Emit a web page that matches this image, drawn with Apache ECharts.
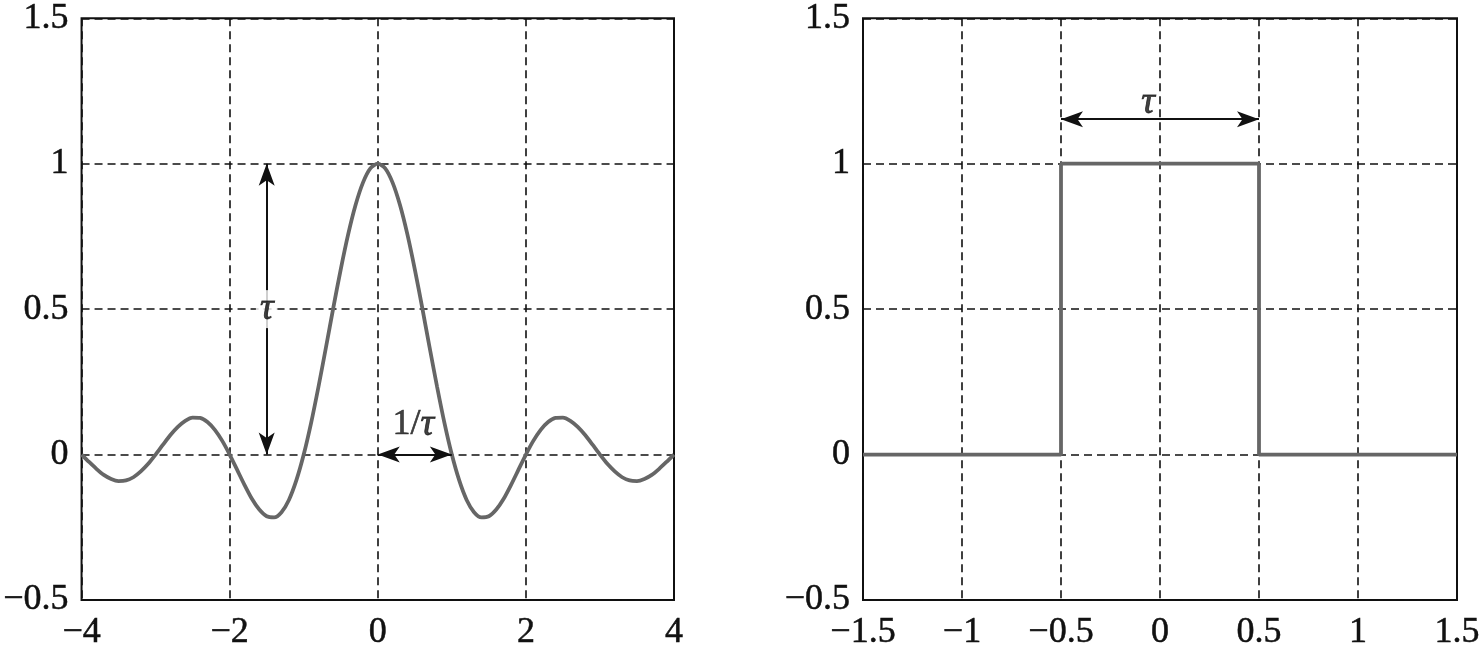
<!DOCTYPE html>
<html>
<head>
<meta charset="utf-8">
<script src="https://cdn.jsdelivr.net/npm/echarts@6/dist/echarts.min.js"></script>
<style>
html,body{margin:0;padding:0;background:#fff;}
#chart{width:1484px;height:653px;}
</style>
</head>
<body>
<div id="chart"></div>
<script>
// ---- data ----
var sincX = [-4,-3.9,-3.8,-3.7,-3.6,-3.5,-3.4,-3.3,-3.2,-3.1,-3,-2.9,-2.8,-2.7,-2.6,-2.5,-2.4,-2.3,-2.2,-2.1,
             -2,-1.9,-1.8,-1.7,-1.6,-1.5,-1.4,-1.3,-1.2,-1.1,-1,-0.9,-0.8,-0.7,-0.6,-0.5,-0.4,-0.3,-0.2,-0.1,
             0,0.1,0.2,0.3,0.4,0.5,0.6,0.7,0.8,0.9,1,1.1,1.2,1.3,1.4,1.5,1.6,1.7,1.8,1.9,
             2,2.1,2.2,2.3,2.4,2.5,2.6,2.7,2.8,2.9,3,3.1,3.2,3.3,3.4,3.5,3.6,3.7,3.8,3.9,4];
var sincY = [0,-0.025,-0.049,-0.070,-0.084,-0.091,-0.089,-0.078,-0.058,-0.032,0,0.034,0.067,0.095,0.116,0.127,0.126,0.112,0.085,0.047,
             0,-0.052,-0.104,-0.152,-0.189,-0.212,-0.216,-0.198,-0.156,-0.089,0,0.109,0.234,0.368,0.505,0.637,0.757,0.858,0.935,0.984,
             1,0.984,0.935,0.858,0.757,0.637,0.505,0.368,0.234,0.109,0,-0.089,-0.156,-0.198,-0.216,-0.212,-0.189,-0.152,-0.104,-0.052,
             0,0.047,0.085,0.112,0.126,0.127,0.116,0.095,0.067,0.034,0,-0.032,-0.058,-0.078,-0.089,-0.091,-0.084,-0.070,-0.049,-0.025,0];
var rectX = [-1.5,-0.5,-0.5,0.5,0.5,1.5];
var rectY = [0,0,1,1,0,0];

var leftXTicks  = ['\u22124','\u22122','0','2','4'];
var rightXTicks = ['\u22121.5','\u22121','\u22120.5','0','0.5','1','1.5'];
var yTicks      = ['\u22120.5','0','0.5','1','1.5'];

// annotation positions (data units)
var leftVArrow  = [[-1.5,0],[-1.5,1]];
var leftHArrow  = [[0,0],[1,0]];
var rightHArrow = [[-0.5,1.153],[0.5,1.153]];
var leftTauPos  = [-1.5,0.5];
var leftInvPos  = [0.48,0.103];
var rightTauPos = [-0.06,1.21];

function zip(xs, ys){ return xs.map(function(x,i){ return [x, ys[i]]; }); }

var FONT = 'Liberation Serif';
var lineColor = '#666666';
var TICK_FS = 36;

function xAxis(idx, min, max, interval, labels){
  return {
    type:'value', gridIndex:idx, min:min, max:max, interval:interval,
    axisLine:{show:false}, axisTick:{show:false},
    axisLabel:{show:true, margin:15, color:'#111', fontFamily:FONT, fontSize:TICK_FS,
      textBorderColor:'#111', textBorderWidth:0.5,
      formatter:function(v,i){ return labels[i]; }},
    splitLine:{show:true, lineStyle:{color:'#111', width:1.6, type:[8,5]}}
  };
}
function yAxis(idx){
  return {
    type:'value', gridIndex:idx, min:-0.5, max:1.5, interval:0.5,
    axisLine:{show:false}, axisTick:{show:false},
    axisLabel:{show:true, margin:13, color:'#111', fontFamily:FONT, fontSize:TICK_FS,
      textBorderColor:'#111', textBorderWidth:0.5,
      formatter:function(v,i){ return yTicks[i]; }},
    splitLine:{show:true, lineStyle:{color:'#111', width:1.6, type:[8,5]}}
  };
}
function arrowLine(pts){
  return [{coord:pts[0]},{coord:pts[1]}];
}
var arrowStyle = {color:'#111', width:2, type:'solid'};

function txtLabel(fmt, extra){
  var l = {show:true, position:'inside', formatter:fmt, color:'#111', fontFamily:FONT,
    fontStyle:'italic', fontSize:38, textBorderColor:'#111', textBorderWidth:0.7,
    rich:{n:{color:'#111', fontFamily:FONT, fontStyle:'normal', fontSize:36, textBorderColor:'#111', textBorderWidth:0.6},
          i:{color:'#111', fontFamily:FONT, fontStyle:'italic', fontSize:38, textBorderColor:'#111', textBorderWidth:0.8}}};
  for (var k in extra) l[k] = extra[k];
  return l;
}

var chart = echarts.init(document.getElementById('chart'), null, {renderer:'canvas'});
chart.setOption({
  animation:false,
  backgroundColor:'#fff',
  grid:[
    {left:81, top:17, width:593, height:583, show:true, borderColor:'#111', borderWidth:2, backgroundColor:'transparent', containLabel:false},
    {left:863, top:17, width:594, height:583, show:true, borderColor:'#111', borderWidth:2, backgroundColor:'transparent', containLabel:false}
  ],
  xAxis:[ xAxis(0,-4,4,2,leftXTicks), xAxis(1,-1.5,1.5,0.5,rightXTicks) ],
  yAxis:[ yAxis(0), yAxis(1) ],
  series:[
    {
      type:'line', xAxisIndex:0, yAxisIndex:0, data:zip(sincX,sincY),
      smooth:0.25, showSymbol:false, symbol:'none', z:3,
      lineStyle:{color:lineColor, width:3.8},
      markLine:{
        silent:true, symbol:['arrow','arrow'], symbolSize:[12,22],
        lineStyle:arrowStyle, label:{show:false},
        data:[ arrowLine(leftVArrow), arrowLine(leftHArrow) ]
      }
    },
    {
      type:'line', xAxisIndex:1, yAxisIndex:1, data:zip(rectX,rectY),
      showSymbol:false, symbol:'none', z:3,
      lineStyle:{color:lineColor, width:3.8},
      markLine:{
        silent:true, symbol:['arrow','arrow'], symbolSize:[12,22],
        lineStyle:arrowStyle, label:{show:false},
        data:[ arrowLine(rightHArrow) ]
      }
    },
    {
      type:'scatter', xAxisIndex:0, yAxisIndex:0, symbolSize:1, silent:true, z:10,
      itemStyle:{color:'rgba(0,0,0,0)'},
      data:[
        {value:leftTauPos, label:txtLabel('{i|\u03c4}', {backgroundColor:'#fff', padding:[0,4,0,4]})},
        {value:leftInvPos, label:txtLabel('{n|1/}{i|\u03c4}', {})}
      ]
    },
    {
      type:'scatter', xAxisIndex:1, yAxisIndex:1, symbolSize:1, silent:true, z:10,
      itemStyle:{color:'rgba(0,0,0,0)'},
      data:[
        {value:rightTauPos, label:txtLabel('{i|\u03c4}', {})}
      ]
    }
  ]
});
</script>
</body>
</html>
